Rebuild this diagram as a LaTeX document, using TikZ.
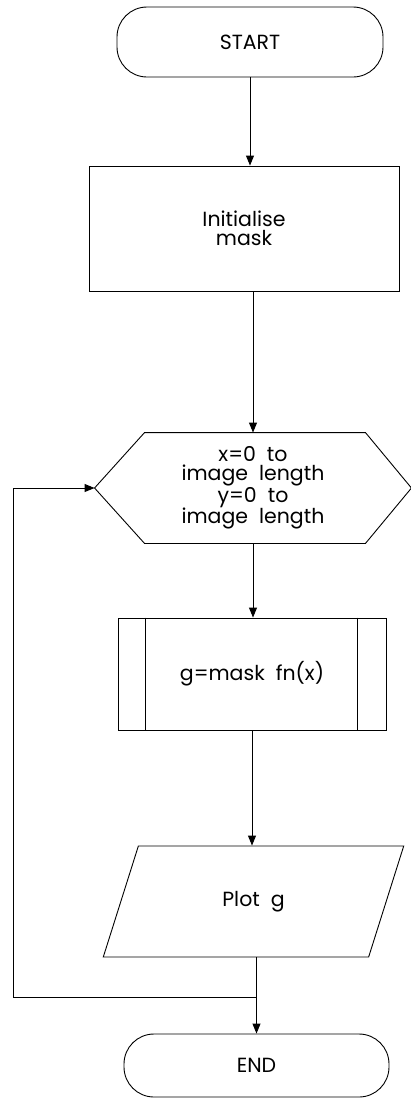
\documentclass[tikz,border=0pt]{standalone}
\usepackage{fontspec}
\setmainfont{Poppins}
\usetikzlibrary{arrows.meta,shapes.geometric}

\begin{document}
\begin{tikzpicture}[x=1pt, y=-1pt, line width=0.9pt,
    every node/.style={font=\fontsize{20.5}{19}\selectfont, align=center},
    terminal/.style={draw, rounded corners=30pt, minimum width=266pt, minimum height=70pt},
    procbox/.style={draw, minimum width=310pt, minimum height=125pt},
    loopbox/.style={minimum width=316pt, minimum height=110pt},
    subbox/.style={draw, minimum width=268pt, minimum height=112pt},
    iobox/.style={draw, trapezium, trapezium left angle=69, trapezium right angle=111,
      trapezium stretches=true, minimum width=301pt, minimum height=111pt},
    flow/.style={-{Triangle[length=10pt,width=8pt]}}]
  \useasboundingbox (0,0) rectangle (411,1098);
  % boxes, top to bottom
  \node[terminal] (start) at (250,42) {START};
  \node[procbox] (init) at (244,228.5) {Initialise\\mask};
  \node[loopbox] (hex) at (253,488) {x=0~ to\\image~ length\\y=0~ to\\image~ length};
  \draw (hex.west) -- ([xshift=50pt]hex.north west) -- ([xshift=-46pt]hex.north east)
    -- (hex.east) -- ([xshift=-46pt]hex.south east) -- ([xshift=50pt]hex.south west) -- cycle;
  \node[subbox] (sub) at (252,674) {g=mask~ fn(x)};
  \draw ([xshift=28pt]sub.north west) -- ([xshift=28pt]sub.south west);
  \draw ([xshift=-29pt]sub.north east) -- ([xshift=-29pt]sub.south east);
  \node[iobox] (plot) at (253.5,901.5) {Plot~ g};
  \node[terminal, minimum width=265pt, minimum height=63pt] (end) at (256.5,1065.5) {END};
  % connectors
  \coordinate (ret) at (13,997);
  \coordinate (join) at (end |- ret);
  \draw[flow] (start) -- (start |- init.north);
  \draw[flow] (hex |- init.south) -- (hex.north);
  \draw[flow] (hex.south) -- (hex.south |- sub.north);
  \draw[flow] (sub.south) -- (sub.south |- plot.north);
  \draw[flow] (end |- plot.south) -- (end.north);
  % loop back
  \draw[flow] (join) -- (ret) |- (hex.west);
\end{tikzpicture}
\end{document}
